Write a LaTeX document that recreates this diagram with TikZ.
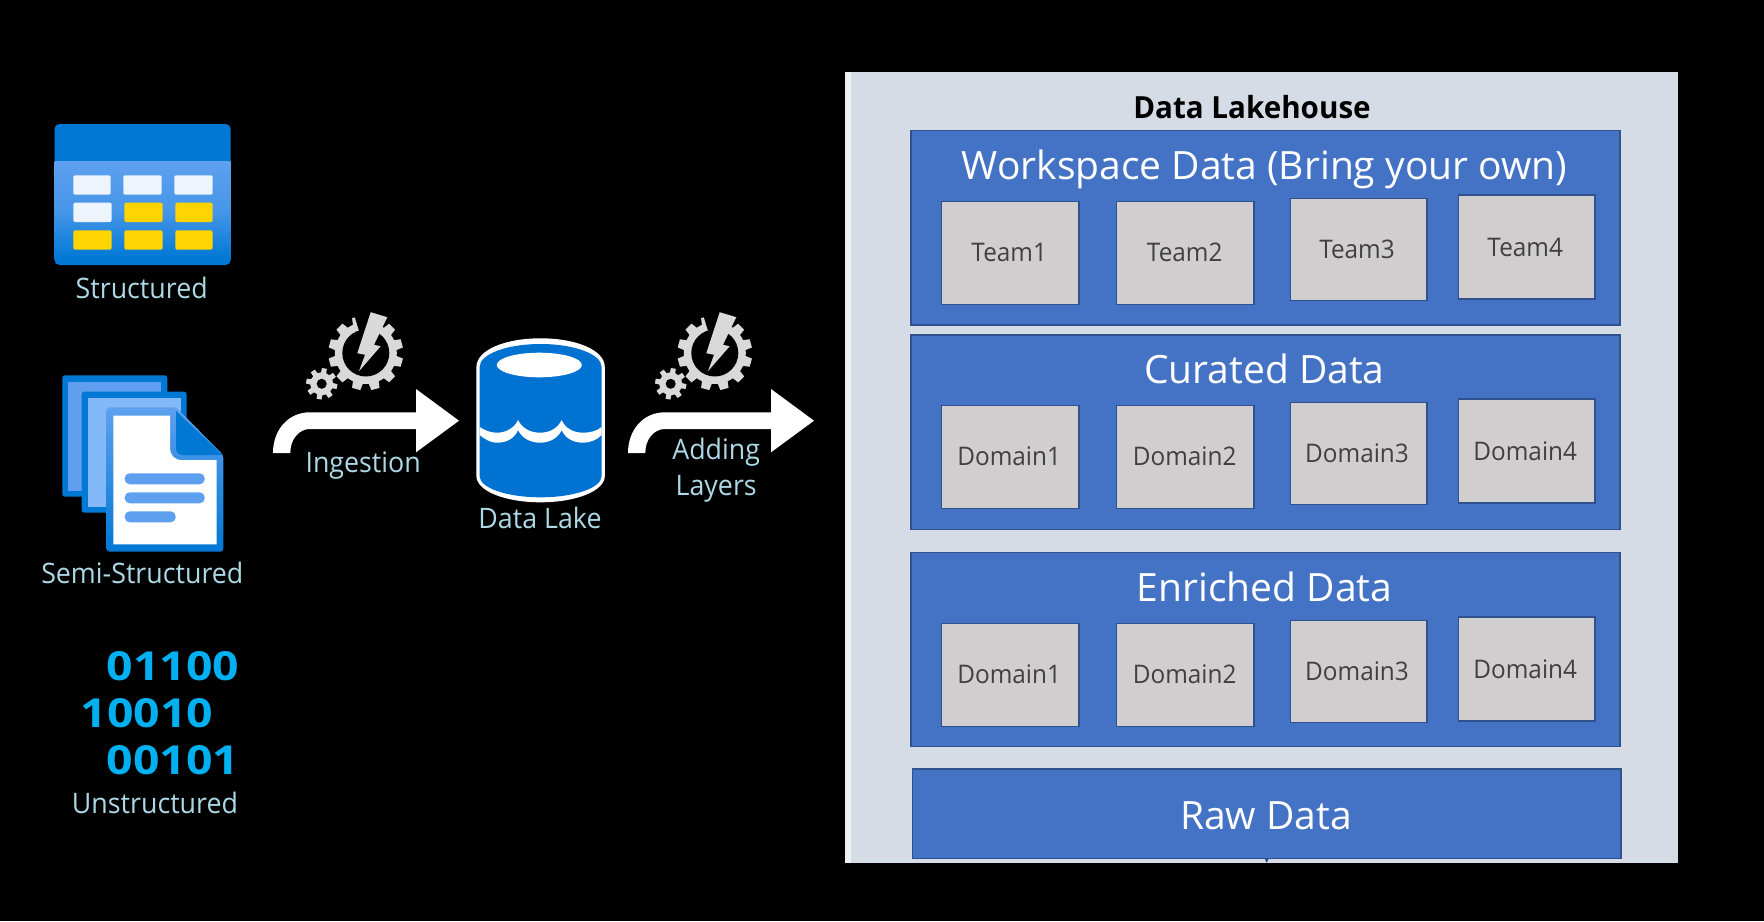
\documentclass[tikz,border=0pt]{standalone}
\usepackage{fontspec}
\setmainfont{Open Sans}[FakeStretch=0.95]
\newfontfamily\boldf{Open Sans}[FakeStretch=1.16,BoldFont={* Bold}]
\newfontfamily\headf{Open Sans}[FakeStretch=0.97,BoldFont={* Bold}]
\newfontfamily\titlef{Open Sans}[FakeStretch=1.0]
\definecolor{lab}{HTML}{ADD8E6}
\definecolor{azure}{HTML}{0078D4}
\definecolor{azmid}{HTML}{5EA0EF}
\definecolor{azlight}{HTML}{83B9F9}
\definecolor{lakeblue}{HTML}{0072D2}
\definecolor{gearc}{HTML}{D9D9D9}
\definecolor{panelc}{HTML}{D6DCE5}
\definecolor{stripc}{HTML}{EEF0F4}
\definecolor{layerc}{HTML}{4472C4}
\definecolor{layerb}{HTML}{2F528F}
\definecolor{cellc}{HTML}{D0CECE}
\definecolor{cellt}{HTML}{404040}
\definecolor{bits}{HTML}{00B0F0}
\definecolor{cellw}{HTML}{EEF4FC}
\definecolor{cellg}{HTML}{FFD400}
\newcommand{\fsz}[1]{\fontsize{#1}{#1}\selectfont}
% box given by its corners: name, x1, y1, x2, y2, style
\newcommand{\bx}[6]{%
  \pgfmathsetmacro{\bxw}{#4-#2}\pgfmathsetmacro{\byh}{#5-#3}%
  \pgfmathsetmacro{\bxc}{(#2+#4)/2}\pgfmathsetmacro{\byc}{(#3+#5)/2}%
  \node[#6,minimum width=\bxw pt,minimum height=\byh pt] (#1) at (\bxc,\byc) {};}
\tikzset{
  lbl/.style={anchor=base,inner sep=0pt,text=lab,font=\fsz{28.2}},
  layerbox/.style={draw=layerb,fill=layerc,line width=1.2pt,inner sep=0pt},
  cellbox/.style={draw=layerb,fill=cellc,line width=1.2pt,inner sep=0pt},
  celltext/.style={anchor=base,inner sep=0pt,text=cellt,font=\fsz{25.6}},
  titletext/.style={anchor=base,inner sep=0pt,text=white,font=\titlef\fsz{39}},
  bittext/.style={anchor=base west,inner sep=0pt,text=bits,font=\boldf\bfseries\fsz{40}},
  tcell/.style={rounded corners=2pt},
  gearpic/.pic={
    \fill[gearc] (0,0) circle[radius=31];
    \foreach \v in {105,135,165,195,225,255,285,315,345,15,45}{
      \fill[gearc] ({-\v-10}:30) -- ({-\v-6.5}:37.5) -- ({-\v+6.5}:37.5) -- ({-\v+10}:30) -- cycle;}
    \fill[black] (0,0) circle[radius=23.5];
    \fill[black] (0,0) -- (-58:45) -- (-82:45) -- (-107:45) -- cycle;
    \fill[gearc] (4.9,-40.8) -- (21.5,-35.8) -- (8.2,-8.2) -- (14.9,-6.8) -- (-6.8,18.2) -- (-0.8,1.8) -- (-8.5,0.2) -- cycle;
    \begin{scope}[shift={(-44.1,30.8)}]
      \fill[gearc] (0,0) circle[radius=11.5];
      \foreach \v in {0,45,...,315}{
        \fill[gearc] ({\v+10-14}:11) -- ({\v+10-9}:15.8) -- ({\v+10+9}:15.8) -- ({\v+10+14}:11) -- cycle;}
      \fill[black] (0,0) circle[radius=5];
    \end{scope}
  },
  arrowpic/.pic={
    \fill[white] (0,0) .. controls (0,-23) and (15,-40.7) .. (37,-40.7) -- (143,-40.7) -- (143,-64) -- (186,-32.3) -- (143,-0.7) -- (143,-24) -- (37,-24) .. controls (26,-24) and (17.3,-14) .. (17.3,0) -- cycle;
  }
}
\begin{document}
\begin{tikzpicture}[x=1pt,y=-1pt]
\useasboundingbox (0,0) rectangle (1764,921);
\fill[black] (0,0) rectangle (1764,921);
% ---- structured table icon
\fill[azure,rounded corners=5pt] (54.5,124) rectangle (230.7,265);
\shade[top color=azmid,bottom color=azure,middle color=azmid!75!azure] (54.5,161.7) rectangle (230.7,259);
\fill[cellw,tcell] (73.3,175.3) rectangle (110.7,194.7);
\fill[cellw,tcell] (123.3,175.3) rectangle (161.7,194.7);
\fill[cellw,tcell] (174.3,175.3) rectangle (212.7,194.7);
\fill[cellw,tcell] (73.3,202.7) rectangle (111.7,222);
\fill[cellg,tcell] (124.3,202.7) rectangle (162.7,222);
\fill[cellg,tcell] (175.3,202.7) rectangle (212.7,222);
\fill[cellg,tcell] (73.3,230.3) rectangle (111.7,249.7);
\fill[cellg,tcell] (124.3,230.3) rectangle (162.7,249.7);
\fill[cellg,tcell] (175.3,230.3) rectangle (212.7,249.7);
\node[lbl] (structured) at (141.7,298) {Structured};
% ---- semi-structured icon
\fill[azure,rounded corners=2.5pt] (62.3,375.3) rectangle (167.3,496.7);
\fill[azmid] (68.3,382.3) rectangle (161.3,490.7);
\fill[azure,rounded corners=2.5pt] (81.7,391.7) rectangle (186.7,512.7);
\fill[azlight] (87.7,397.7) rectangle (180.7,506.7);
\shade[top color=azmid,bottom color=azure,rounded corners=3pt] (106.7,407.3) -- (176,407.3) -- (223.3,455) -- (223.3,551.7) -- (106.7,551.7) -- cycle;
\fill[white] (113.3,415.7) -- (170,415.7) -- (170,447) .. controls (170,455) and (174,460) .. (181.7,460) -- (216.7,460) -- (216.7,544.3) -- (113.3,544.3) -- cycle;
\fill[azure] (176,411) -- (222.5,455) -- (183,455) .. controls (178,455) and (176,452) .. (176,448) -- cycle;
\fill[azmid,rounded corners=5pt] (124.7,473.3) rectangle (204.7,484.3);
\fill[azmid,rounded corners=5pt] (124.7,492.3) rectangle (204.7,503.3);
\fill[azmid,rounded corners=5pt] (124.7,511.3) rectangle (175.7,522.3);
\node[lbl] (semi) at (142.3,583.5) {Semi-Structured};
% ---- unstructured
\node[bittext] (b1) at (106.5,680.5) {01100};
\node[bittext] (b2) at (80.5,727.5) {10010};
\node[bittext] (b3) at (106.5,774) {00101};
\node[lbl] (unstructured) at (155,813) {Unstructured};
% ---- block arrows and gears
\pic at (273,453) {arrowpic};
\pic at (628,453) {arrowpic};
\pic at (365.8,353) {gearpic};
\pic at (714.8,353) {gearpic};
\node[lbl] (ingestion) at (363.2,472.5) {Ingestion};
\node[lbl] (adding) at (716.2,459.8) {Adding};
\node[lbl] (layers) at (716.2,495.5) {Layers};
% ---- data lake cylinder
\fill[white] (476.4,367) .. controls (476.4,350) and (505,338.3) .. (540.6,338.3) .. controls (576,338.3) and (604.8,350) .. (604.8,367) -- (604.8,476) .. controls (604.8,491) and (576,502.3) .. (540.6,502.3) .. controls (505,502.3) and (476.4,491) .. (476.4,476) -- cycle;
\fill[lakeblue] (479.6,367) .. controls (479.6,354) and (507,344) .. (540.6,344) .. controls (574,344) and (601.6,354) .. (601.6,367) -- (601.6,476) .. controls (601.6,488) and (574,497.3) .. (540.6,497.3) .. controls (507,497.3) and (479.6,488) .. (479.6,476) -- cycle;
\fill[white] (539.3,365) ellipse[x radius=42.5,y radius=12.3];
\fill[white] (479.6,427) .. controls (486,431) and (491,432.7) .. (497,432.7) .. controls (507,432.7) and (515,427) .. (518,420) .. controls (522,428) and (530,432.7) .. (540,432.7) .. controls (550,432.7) and (558,428) .. (561.7,420) .. controls (565,428) and (573,432.7) .. (583,432.7) .. controls (590,432.7) and (597,431) .. (601.6,427)
 -- (601.6,435) .. controls (597,440) and (590,442.7) .. (583,442.7) .. controls (573,442.7) and (565,438) .. (561.7,430) .. controls (558,438) and (550,442.7) .. (540,442.7) .. controls (530,442.7) and (522,438) .. (518,430) .. controls (515,438) and (507,442.7) .. (497,442.7) .. controls (491,442.7) and (486,440) .. (479.6,435) -- cycle;
\node[lbl] (lake) at (540,528.8) {Data Lake};
% ---- lakehouse panel
\fill[panelc] (845,72) rectangle (1677.5,863);
\fill[stripc] (845,72) rectangle (851,863);
\node[anchor=base,inner sep=0pt,text=black,font=\headf\bfseries\fsz{30.5}] (house) at (1252,118) {Data Lakehouse};
\bx{workspace}{911}{130.7}{1620}{325}{layerbox}
\bx{curated}{911}{335}{1620}{529.3}{layerbox}
\bx{enriched}{911}{552.5}{1620}{746.7}{layerbox}
\bx{raw}{912.5}{769}{1621}{858.3}{layerbox}
\fill[layerb] ([xshift=-2pt]raw.south) -- ([yshift=-4pt]raw.south) -- ([xshift=2pt]raw.south) -- cycle;
\node[titletext] (t1) at (1264.5,179) {Workspace Data (Bring your own)};
\node[titletext] (t2) at (1264.3,383.5) {Curated Data};
\node[titletext] (t3) at (1264.5,601) {Enriched Data};
\node[titletext] (t4) at (1266,829) {Raw Data};
\foreach \r/\o/\w in {a/0/Team,b/204/Domain,c/422/Domain}{
  \pgfmathsetmacro{\ya}{201.7+\o}\pgfmathsetmacro{\yb}{304.3+\o}
  \pgfmathsetmacro{\yc}{198.3+\o}\pgfmathsetmacro{\yd}{300.7+\o}
  \pgfmathsetmacro{\ye}{195+\o}\pgfmathsetmacro{\yf}{299+\o}
  \bx{\r1}{941.7}{\ya}{1079}{\yb}{cellbox}
  \bx{\r2}{1116.7}{\ya}{1254}{\yb}{cellbox}
  \bx{\r3}{1290.3}{\yc}{1427}{\yd}{cellbox}
  \bx{\r4}{1458.3}{\ye}{1595}{\yf}{cellbox}
  \pgfmathsetmacro{\la}{261.6+\o}\pgfmathsetmacro{\lb}{258.2+\o}\pgfmathsetmacro{\lc}{256.8+\o}
  \node[celltext] (\r t1) at (1009.2,\la) {\w1};
  \node[celltext] (\r t2) at (1184.7,\la) {\w2};
  \node[celltext] (\r t3) at (1357,\lb) {\w3};
  \node[celltext] (\r t4) at (1525.2,\lc) {\w4};
}
\end{tikzpicture}
\end{document}
